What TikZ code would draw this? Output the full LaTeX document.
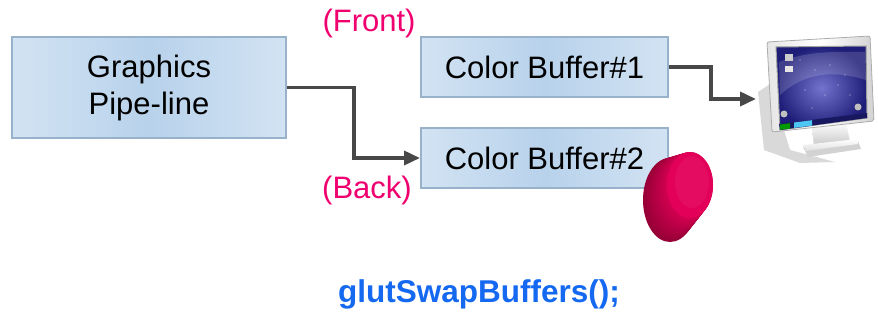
\documentclass[tikz,border=0pt]{standalone}
\usepackage{fontspec}
\setmainfont{Liberation Sans}
\usetikzlibrary{arrows.meta}

\definecolor{boxedge}{RGB}{152,178,204}
\definecolor{boxlight}{RGB}{210,227,243}
\definecolor{boxdark}{RGB}{184,210,235}
\definecolor{wire}{RGB}{72,72,72}
\definecolor{tag}{RGB}{240,0,110}
\definecolor{call}{RGB}{20,105,240}
\definecolor{btnface}{RGB}{226,0,88}
\definecolor{btnside}{RGB}{130,0,45}
\definecolor{scrdark}{RGB}{30,30,120}
\definecolor{scrlight}{RGB}{115,115,205}

\tikzset{
  bufbox/.style={draw=boxedge, line width=2pt, left color=boxlight,
    right color=boxlight, middle color=boxdark, inner sep=0pt,
    align=center, font=\fontsize{31}{37}\selectfont},
  tagtext/.style={text=tag, inner sep=0pt, font=\fontsize{31}{37}\selectfont},
  wirearrow/.style={draw=wire, line width=3.6pt,
    -{Triangle[length=16pt,width=14pt]}},
}

\begin{document}
\begin{tikzpicture}[x=1pt,y=-1pt]
\useasboundingbox (0,0) rectangle (878,326);

% pipeline and the two colour buffers
\node[bufbox, minimum width=274pt, minimum height=101pt] (gp) at (149,87.5)
  {Graphics\\Pipe-line};
\node[bufbox, minimum width=247pt, minimum height=60pt] (cb1) at (544.5,67)
  {Color Buffer\#1};
\node[bufbox, minimum width=247pt, minimum height=60pt] (cb2) at (544.5,158)
  {Color Buffer\#2};

\node[tagtext] (front) at (369,23) {(Front)};
\node[tagtext] (back) at (367,190) {(Back)};

% monitor
\coordinate (mon) at (756,99);
\fill[gray, opacity=0.3] (758,92) -- (770,84) -- (790,150) -- (835,162)
  -- (800,163) -- (764,150) -- cycle;
% stand
\fill[gray!35] (803,147) -- (858,141) -- (861,149) -- (808,157) -- cycle;
\shade[top color=white, bottom color=gray!45] (812,128) -- (846,122)
  -- (850,142) -- (814,147) -- cycle;
\shade[top color=white, bottom color=gray!25] (803,145) -- (858,139)
  -- (858,144) -- (806,151) -- cycle;
% bezel
\shade[left color=gray!20, right color=gray!35, middle color=white,
  draw=gray!65, line width=0.8pt, rounded corners=2pt]
  (767,42) -- (870,36) -- (874,121) -- (772,132) -- cycle;
% screen
\shade[inner color=scrlight, outer color=scrdark, draw=gray!75, line width=1pt]
  (776,47) -- (866,46) -- (867,118) -- (780,130) -- cycle;
\fill[white, opacity=0.15] (779,62) .. controls (810,50) and (840,52) .. (865,52)
  -- (866,80) .. controls (835,70) and (805,72) .. (780,95) -- cycle;
% taskbar
\fill[scrdark!80!black] (779,124) -- (867,113) -- (867,118) -- (780,130) -- cycle;
\fill[green!60!black] (780,124.5) -- (790,123.2) -- (790,128.6) -- (780,129.8) -- cycle;
\fill[cyan!70] (794,122.5) -- (812,120.2) -- (812,125.6) -- (794,127.9) -- cycle;
% desktop icons
\fill[gray!40] (785,54) rectangle (793,61);
\fill[white!80!gray] (785,66) rectangle (793,72);
\fill[gray!50] (784,114) circle (3.5pt);
\fill[gray!50] (858,107) circle (3.5pt);
\foreach \px/\py in {800/60,815/70,830/65,845/75,805/90,825/95,850/95,838/85,812/108}
  \fill[white, opacity=0.7] (\px,\py) circle (0.7pt);

% push button: a stack of ellipses forms the body, then the face on top
\foreach \t in {0,0.04,...,1.0001}{
  \pgfmathsetmacro{\mix}{20+65*\t}
  \pgfmathsetmacro{\rx}{27-4*\t}
  \pgfmathsetmacro{\ry}{42-9*\t}
  \fill[btnface!\mix!btnside]
    (670+20*\t,200-15*\t) ellipse [x radius=\rx pt, y radius=\ry pt];
}
\fill[btnface] (690,185) ellipse [x radius=23pt, y radius=33pt];
\fill[btnface!90!white, opacity=0.5] (692,182) ellipse [x radius=17pt, y radius=26pt];

% connectors
\draw[wirearrow] (gp.east) -- ++(67,0) |- (cb2.west);
\draw[wirearrow] (cb1.east) -- ++(42,0) |- (mon);

% call
\node[text=call, inner sep=0pt, font=\fontsize{31.5}{36}\bfseries\selectfont]
  (swap) at (479,294) {glutSwapBuffers();};
\end{tikzpicture}
\end{document}
